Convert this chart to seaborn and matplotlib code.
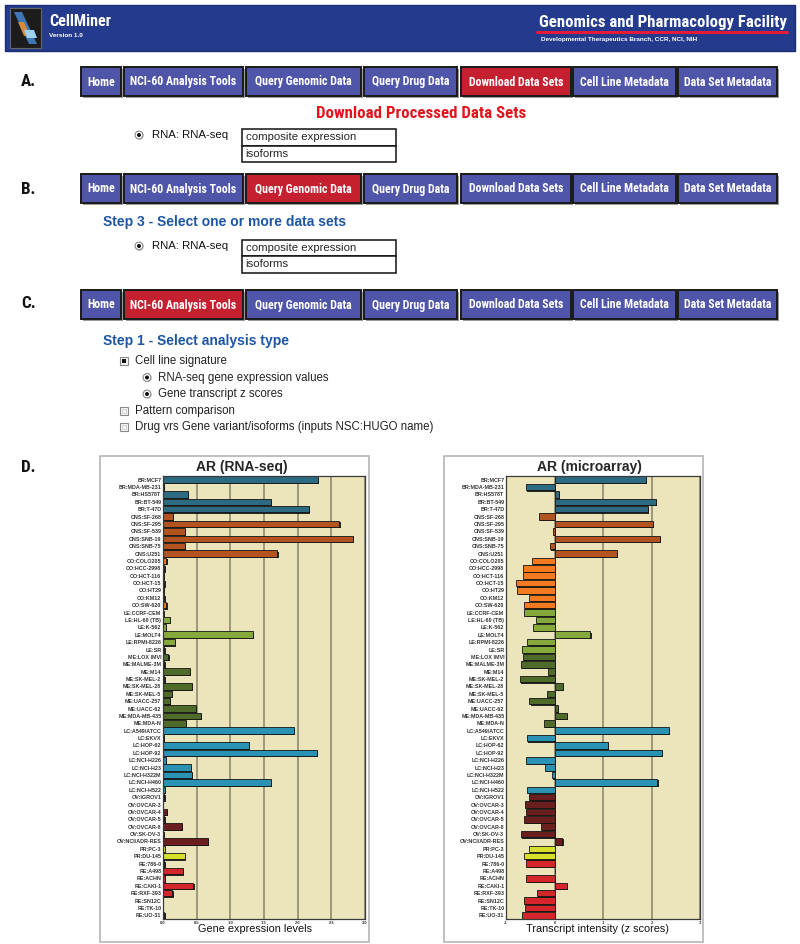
import numpy as np
import pandas as pd
import matplotlib
matplotlib.use("Agg")
import matplotlib.pyplot as plt
import seaborn as sns
from matplotlib.patches import Rectangle, Circle, Polygon
from matplotlib import patheffects as pe
from matplotlib import font_manager as fm

# ---------------- data ----------------
cell_lines = [
    "BR:MCF7", "BR:MDA-MB-231", "BR:HS578T", "BR:BT-549", "BR:T-47D",
    "CNS:SF-268", "CNS:SF-295", "CNS:SF-539", "CNS:SNB-19", "CNS:SNB-75", "CNS:U251",
    "CO:COLO205", "CO:HCC-2998", "CO:HCT-116", "CO:HCT-15", "CO:HT29", "CO:KM12", "CO:SW-620",
    "LE:CCRF-CEM", "LE:HL-60 (TB)", "LE:K-562", "LE:MOLT4", "LE:RPMI-8226", "LE:SR",
    "ME:LOX IMVI", "ME:MALME-3M", "ME:M14", "ME:SK-MEL-2", "ME:SK-MEL-28", "ME:SK-MEL-5",
    "ME:UACC-257", "ME:UACC-62", "ME:MDA-MB-435", "ME:MDA-N",
    "LC:A549/ATCC", "LC:EKVX", "LC:HOP-62", "LC:HOP-92", "LC:NCI-H226", "LC:NCI-H23",
    "LC:NCI-H322M", "LC:NCI-H460", "LC:NCI-H522",
    "OV:IGROV1", "OV:OVCAR-3", "OV:OVCAR-4", "OV:OVCAR-5", "OV:OVCAR-8", "OV:SK-OV-3",
    "OV:NCI/ADR-RES",
    "PR:PC-3", "PR:DU-145",
    "RE:786-0", "RE:A498", "RE:ACHN", "RE:CAKI-1", "RE:RXF-393", "RE:SN12C", "RE:TK-10", "RE:UO-31",
]
tissues = [c.split(":")[0] for c in cell_lines]

rnaseq_values = [
    2.30, 0.01, 0.37, 1.60, 2.17,
    0.15, 2.62, 0.32, 2.82, 0.33, 1.70,
    0.05, 0.02, 0.01, 0.02, 0.01, 0.02, 0.05,
    0.005, 0.10, 0.04, 1.33, 0.18, 0.02,
    0.08, 0.02, 0.40, 0.02, 0.43, 0.13, 0.10, 0.49, 0.56, 0.34,
    1.94, 0.01, 1.27, 2.28, 0.04, 0.41, 0.43, 1.60, 0.03,
    0.02, 0.0, 0.06, 0.02, 0.28, 0.005, 0.67,
    0.03, 0.33,
    0.02, 0.29, 0.03, 0.45, 0.14, 0.0, 0.0, 0.02,
]

microarray_values = [
    1.88, -0.59, 0.09, 2.09, 1.93,
    -0.31, 2.03, -0.03, 2.17, -0.10, 1.28,
    -0.47, -0.65, -0.64, -0.79, -0.77, -0.53, -0.63,
    -0.62, -0.38, -0.45, 0.74, -0.56, -0.66,
    -0.65, -0.70, -0.13, -0.72, 0.17, -0.15, -0.52, 0.07, 0.26, -0.22,
    2.36, -0.57, 1.10, 2.21, -0.59, -0.19, -0.05, 2.12, -0.57,
    -0.52, -0.60, -0.58, -0.62, -0.27, -0.69, 0.16,
    -0.53, -0.62,
    -0.58, 0.005, -0.58, 0.26, -0.36, -0.63, -0.60, -0.67,
]

tissue_colors = {
    "BR": "#2d6b82", "CNS": "#b3531f", "CO": "#f47a20", "LE": "#86a93b",
    "ME": "#4f6b29", "LC": "#2a93b4", "OV": "#6a1e1e", "PR": "#d6e02a", "RE": "#d5262b",
}

rnaseq_ticks = [0.0, 0.5, 1.0, 1.5, 2.0, 2.5, 3.0]
rnaseq_ticklabels = ["0.0", "0.5", "1.0", "1.5", "2.0", "2.5", "3.0"]
micro_ticks = [-1, 0, 1, 2, 3]
micro_ticklabels = ["-1", "0", "1", "2", "3"]

menu_labels = ["Home", "NCI-60 Analysis Tools", "Query Genomic Data", "Query Drug Data",
               "Download Data Sets", "Cell Line Metadata", "Data Set Metadata"]
analysis_items = ["Cell line signature", "RNA-seq gene expression values",
                  "Gene transcript z scores", "Pattern comparison",
                  "Drug vrs Gene variant/isoforms (inputs NSC:HUGO name)"]

# ---------------- fonts ----------------
_names = {f.name for f in fm.fontManager.ttflist}
NF, NS = ["Liberation Sans", "DejaVu Sans"], 0.82
for cand in ["Liberation Sans Narrow", "Arial Narrow", "Roboto Condensed", "Open Sans Condensed"]:
    if cand in _names:
        NF, NS = [cand, "Liberation Sans", "DejaVu Sans"], 1.0
        break
RF = ["Liberation Sans", "DejaVu Sans"]

sns.set_theme(style="white")
plt.rcParams["font.family"] = RF

W, H = 800, 944
fig = plt.figure(figsize=(W / 100, H / 100), dpi=100)
fig.patch.set_facecolor("white")

bg = fig.add_axes([0, 0, 1, 1], zorder=0)
bg.set_xlim(0, W)
bg.set_ylim(H, 0)
bg.axis("off")

# ---------------- header ----------------
bg.add_patch(Rectangle((5, 5), 790, 46, facecolor="#243a8c", edgecolor="#1b2c70", lw=1))
bg.add_patch(Rectangle((10, 8), 31, 40, facecolor="#1c1c1c", edgecolor="#666666", lw=0.8))
bg.add_patch(Polygon([[14, 12], [22, 12], [37, 44], [29, 44]], closed=True, facecolor="#3f78b5", edgecolor="none"))
bg.add_patch(Polygon([[18, 22], [24, 22], [30, 36], [24, 36]], closed=True, facecolor="#d48a3a", edgecolor="none"))
bg.add_patch(Polygon([[24, 30], [34, 30], [37, 38], [27, 38]], closed=True, facecolor="#9fd0f0", edgecolor="none"))
bg.text(49, 22, "CellMiner", color="white", fontsize=11.6 * NS, fontweight="bold", family=NF, va="center", ha="left")
bg.text(49, 35.5, "Version 1.0", color="white", fontsize=4.6, fontweight="bold", family=RF, va="center", ha="left")
bg.text(539, 22, "Genomics and Pharmacology Facility", color="white", fontsize=12.1 * NS,
        fontweight="bold", family=NF, va="center", ha="left")
bg.plot([537, 787], [31.5, 31.5], color="#e21b3c", lw=2.2, solid_capstyle="round")
bg.text(541, 39.5, "Developmental Therapeutics Branch, CCR, NCI, NIH", color="white",
        fontsize=4.6, fontweight="bold", family=RF, va="center", ha="left")

# ---------------- menus ----------------
btn_x = [(81, 121), (124, 243), (246, 361), (364, 457), (461, 571), (573, 676), (678, 777)]
BLUE, RED = "#4f55a8", "#c42030"


def draw_menu(y0, active):
    h = 29
    for i, (lab, (x0, x1)) in enumerate(zip(menu_labels, btn_x)):
        bg.add_patch(Rectangle((x0 + 1.5, y0 + 1.5), x1 - x0, h, facecolor="#9a9a9a", edgecolor="none", zorder=1))
        bg.add_patch(Rectangle((x0, y0), x1 - x0, h, facecolor=RED if i == active else BLUE,
                               edgecolor="#1a1a1a", lw=1.4, zorder=2))
        bg.text((x0 + x1) / 2, y0 + h / 2 + 0.5, lab, color="white", fontsize=8.6 * NS, fontweight="bold",
                family=NF, ha="center", va="center", zorder=3)


def section_label(y, s):
    bg.text(21, y, s, fontsize=12.3 * NS, fontweight="bold", family=NF, ha="left", va="center", color="#111111")


def radio(x, y):
    bg.add_patch(Circle((x + 0.6, y + 0.6), 4.0, facecolor="#bbbbbb", edgecolor="none", zorder=2))
    bg.add_patch(Circle((x, y), 3.9, facecolor="white", edgecolor="#8a8a8a", lw=0.8, zorder=3))
    bg.add_patch(Circle((x, y), 2.0, facecolor="#111111", edgecolor="none", zorder=4))


def checkbox(x, y, checked):
    bg.add_patch(Rectangle((x - 4, y - 4), 8, 8, facecolor="#f4f4f4", edgecolor="#8a8a8a", lw=0.8, zorder=3))
    if checked:
        bg.add_patch(Rectangle((x - 2, y - 2), 4, 4, facecolor="#111111", edgecolor="none", zorder=4))
    else:
        bg.add_patch(Rectangle((x - 2.2, y - 2.2), 4.4, 4.4, facecolor="none", edgecolor="#c8c8c8", lw=0.5, zorder=4))


def dataset_block(yr, yb):
    radio(139, yr)
    bg.text(152, yr, "RNA: RNA-seq", fontsize=8.2, family=RF, va="center", ha="left", color="#111111")
    bg.add_patch(Rectangle((242, yb), 154, 16.5, facecolor="white", edgecolor="#111111", lw=1.1, zorder=2))
    bg.add_patch(Rectangle((242, yb + 16.5), 154, 16.5, facecolor="white", edgecolor="#111111", lw=1.1, zorder=2))
    bg.text(245.5, yb + 8.3, "composite expression", fontsize=8.2, family=RF, va="center", ha="left", zorder=3)
    bg.text(245.5, yb + 24.8, "isoforms", fontsize=8.2, family=RF, va="center", ha="left", zorder=3)


# A
section_label(82, "A.")
draw_menu(67, 4)
bg.text(421, 114, "Download Processed Data Sets", color="#e3141c", fontsize=12.2 * NS, fontweight="bold",
        family=NF, ha="center", va="center")
dataset_block(135, 129)

# B
section_label(189, "B.")
draw_menu(174, 2)
bg.text(103, 222, "Step 3 - Select one or more data sets", color="#1d56a5", fontsize=10, fontweight="bold",
        family=RF, ha="left", va="center")
dataset_block(246, 239.5)

# C
section_label(304, "C.")
draw_menu(290, 1)
bg.text(103, 341, "Step 1 - Select analysis type", color="#1d56a5", fontsize=10, fontweight="bold",
        family=RF, ha="left", va="center")
item_pos = [(124, 361, "check", True), (147, 377.5, "radio", True), (147, 394, "radio", True),
            (124, 411, "check", False), (124, 427, "check", False)]
for (x, y, kind, chk), lab in zip(item_pos, analysis_items):
    if kind == "check":
        checkbox(x, y, chk)
    else:
        radio(x, y)
    bg.text(x + 11, y, lab, fontsize=8.3, family=RF, va="center", ha="left", color="#222222")

# D
section_label(467, "D.")

# panel frames
bg.add_patch(Rectangle((100, 456), 269, 486, facecolor="white", edgecolor="#b5b5b5", lw=1.2))
bg.add_patch(Rectangle((444, 456), 259, 486, facecolor="white", edgecolor="#b5b5b5", lw=1.2))
bg.text(242, 467, "AR (RNA-seq)", fontsize=10, fontweight="bold", family=RF, ha="center", va="center")
bg.text(589, 467, "AR (microarray)", fontsize=10, fontweight="bold", family=RF, ha="center", va="center")


# ---------------- charts ----------------
def rect_px(x0, x1, y0, y1):
    return [x0 / W, 1 - y1 / H, (x1 - x0) / W, (y1 - y0) / H]


def draw_chart(rect, values, xlim, ticks, ticklabels, xlabel, xlabel_x):
    ax = fig.add_axes(rect, zorder=2)
    df = pd.DataFrame({"cell": cell_lines, "value": values, "tissue": tissues})
    sns.barplot(data=df, x="value", y="cell", hue="tissue", palette=tissue_colors, dodge=False,
                orient="h", errorbar=None, saturation=1, width=0.88, edgecolor="#141414",
                linewidth=0.6, legend=False, ax=ax)
    for p in ax.patches:
        p.set_path_effects([pe.SimplePatchShadow(offset=(0.9, -0.9), shadow_rgbFace="#111111", alpha=0.9),
                            pe.Normal()])
    ax.set_facecolor("#ece5bb")
    ax.set_xlim(*xlim)
    ax.set_xticks(ticks)
    ax.set_xticklabels(ticklabels, fontsize=3.0, fontweight="bold", color="#333333")
    ax.set_axisbelow(True)
    ax.xaxis.grid(True, color="#85826a", lw=1.1)
    ax.yaxis.grid(False)
    ax.tick_params(axis="x", length=0, pad=1.6)
    ax.tick_params(axis="y", length=0, pad=1.2, labelsize=3.9, labelcolor="#333333")
    for t in ax.get_yticklabels():
        t.set_fontweight("bold")
    ax.set_ylabel("")
    ax.set_xlabel(xlabel, fontsize=7.8, color="#111111", labelpad=1.5)
    ax.xaxis.set_label_coords(xlabel_x, -0.012)
    ax.xaxis.label.set_va("top")
    for s in ax.spines.values():
        s.set_visible(True)
        s.set_color("#3a3a3a")
        s.set_linewidth(0.9)
    return ax


draw_chart(rect_px(163, 365, 476, 919), rnaseq_values, (0, 3.0), rnaseq_ticks, rnaseq_ticklabels,
           "Gene expression levels", (255 - 163) / (365 - 163))
draw_chart(rect_px(506, 700, 476, 919), microarray_values, (-1, 3), micro_ticks, micro_ticklabels,
           "Transcript intensity (z scores)", (597 - 506) / (700 - 506))

fig.savefig("out.png", dpi=100, facecolor="white")
